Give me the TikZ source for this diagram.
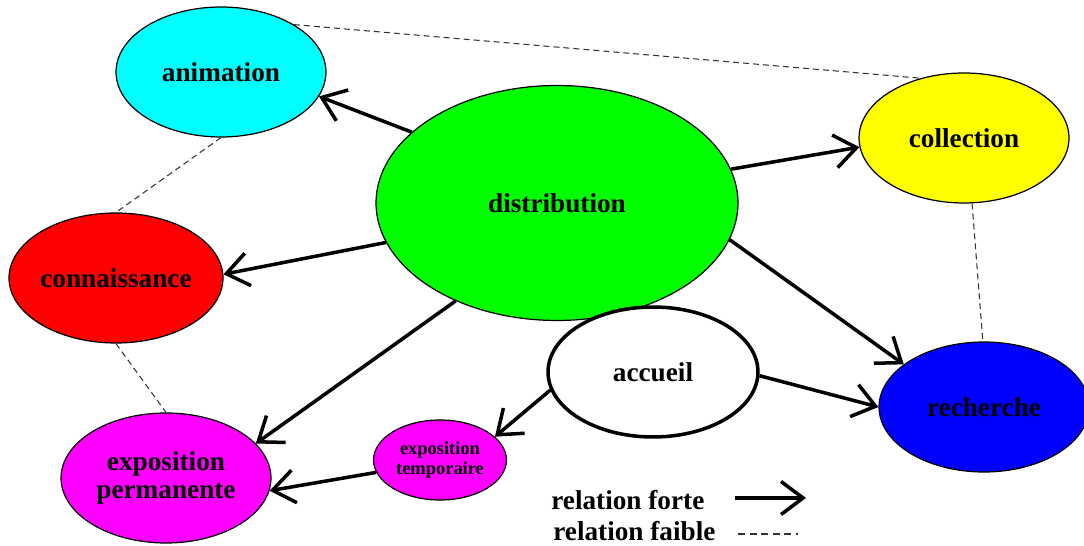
\documentclass[tikz,border=0pt]{standalone}
\usepackage{fontspec}
\setmainfont{Liberation Serif}
\usepackage{xcolor}
\definecolor{cyanpole}{RGB}{0,255,255}
\definecolor{greenpole}{RGB}{0,255,0}
\definecolor{yellowpole}{RGB}{255,255,0}
\definecolor{redpole}{RGB}{255,0,0}
\definecolor{bluepole}{RGB}{0,0,255}
\definecolor{magentapole}{RGB}{255,0,255}
\usepackage{tikz}
\usetikzlibrary{
    shapes.geometric,
    arrows.meta,
    positioning
}

\begin{document}
\begin{tikzpicture}[
        x=0.02cm, y=-0.02cm,
        pole/.style={ellipse, draw=black, line width=0.7pt, fill=#1, minimum width=4.2cm, minimum height=2.6cm, inner sep=0pt, align=center, font=\fontsize{15.5}{16}\selectfont\bfseries},
        small/.style={pole=#1, minimum width=2.66cm, minimum height=1.6cm, font=\fontsize{10.5}{11}\selectfont\bfseries},
        legend/.style={inner sep=0pt, anchor=west, font=\fontsize{15.5}{16}\selectfont\bfseries},
        arrow/.style={-{Straight Barb[length=0.44cm, width=0.66cm]}, line width=2pt},
        weak/.style={dash pattern=on 3.4pt off 2.3pt, line width=0.6pt, color=black!80}
    ]
        \useasboundingbox (0,0) rectangle (1084,546);

        \node[pole=cyanpole] (animation) at (221, 72) {animation};
        \node[pole=greenpole, minimum width=7.24cm, minimum height=4.7cm] (distribution) at (557, 203) {distribution};
        \node[pole=yellowpole] (collection) at (964, 138) {collection};
        \node[pole=redpole] (connaissance) at (116, 278) {connaissance};
        \node[pole=white, line width=2pt] (accueil) at (653, 372) {accueil};
        \node[pole=bluepole] (recherche) at (984, 407) {recherche};
        \node[pole=magentapole] (permanente) at (166, 478) {exposition\\permanente};
        \node[small=magentapole] (temporaire) at (440, 460) {exposition\\temporaire};

        \draw[weak] (animation.33) -- (collection.126);
        \draw[weak] (animation.-90) -- (connaissance.90);
        \draw[weak] (connaissance.-90) -- (permanente.90);
        \draw[weak] (collection.-83) -- (recherche.91);

        \draw[arrow] (distribution.154) -- (animation.-14);
        \draw[arrow] (distribution.11) -- (collection.185);
        \draw[arrow] (distribution.193) -- (connaissance.2);
        \draw[arrow] (distribution.224) -- (permanente.21);
        \draw[arrow] (distribution.-12) -- (recherche.152);
        \draw[arrow] (accueil.-2) -- (recherche.180);
        \draw[arrow] (accueil.190) -- (temporaire.23);
        \draw[arrow] (temporaire.191) -- (permanente.-7);

        \node[legend] (forte) at (551, 500) {relation forte};
        \node[legend] (faible) at (553, 531) {relation faible};
        \coordinate (forteA) at (735, 498);
        \coordinate (forteB) at (806, 498);
        \coordinate (faibleA) at (738, 534);
        \coordinate (faibleB) at (798, 534);
        \draw[arrow] (forteA) -- (forteB);
        \draw[weak, dash pattern=on 4pt off 2.6pt] (faibleA) -- (faibleB);
    \end{tikzpicture}
\end{document}
